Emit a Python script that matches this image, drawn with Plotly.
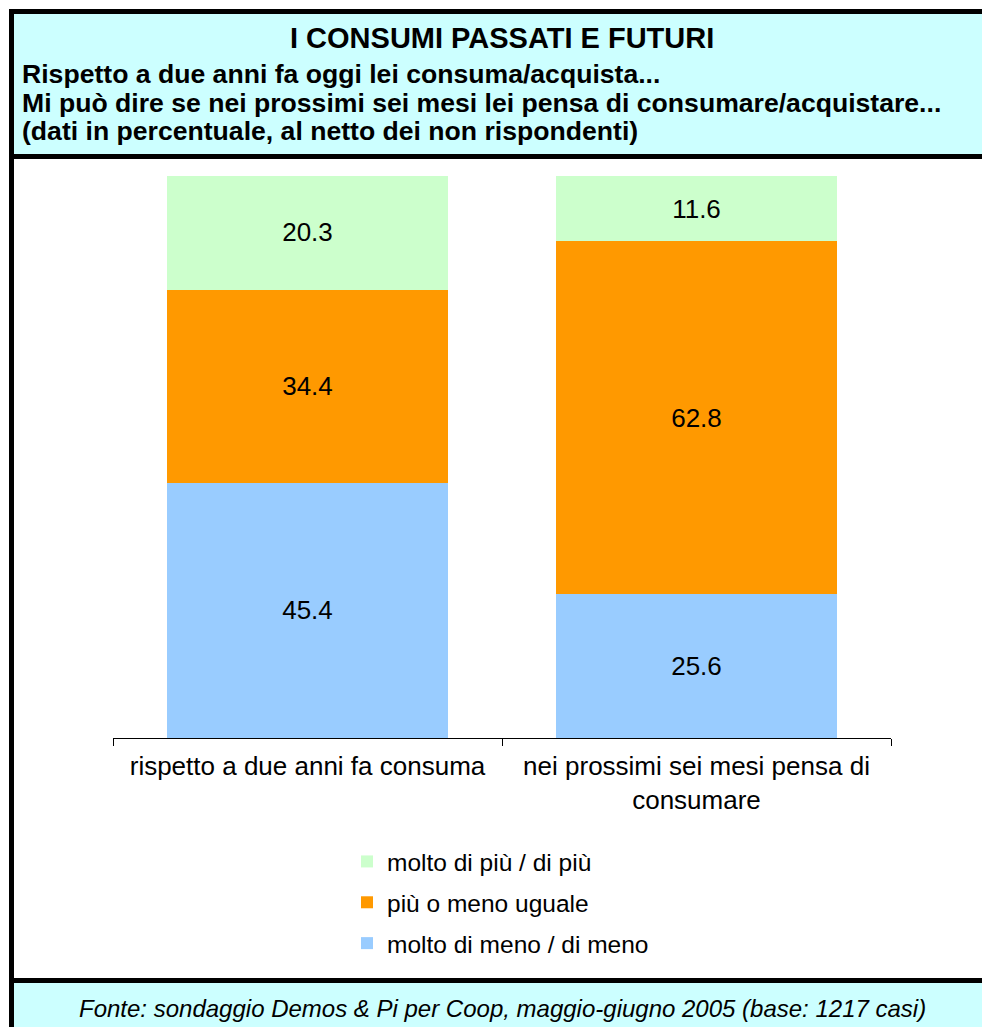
import plotly.graph_objects as go

categories = ["rispetto a due anni fa consuma", "nei prossimi sei mesi pensa di<br>consumare"]
series_names = ["molto di meno / di meno", "più o meno uguale", "molto di più / di più"]
meno = [45.4, 25.6]
uguale = [34.4, 62.8]
piu = [20.3, 11.6]
colors = ["#99CCFF", "#FF9900", "#CCFFCC"]
legend_ranks = [3, 2, 1]

title_text = "I CONSUMI PASSATI E FUTURI"
subtitle_lines = [
    "Rispetto a due anni fa oggi lei consuma/acquista...",
    "Mi può dire se nei prossimi sei mesi lei pensa di consumare/acquistare...",
    "(dati in percentuale, al netto dei non rispondenti)",
]
footer_text = "Fonte: sondaggio Demos & Pi per Coop, maggio-giugno 2005 (base: 1217 casi)"

W, H = 982, 1027
L, R, T, B = 113, 891, 176, 738
PW, PH = R - L, B - T


def px(x):
    return (x - L) / PW


def py(y):
    return (B - y) / PH


FONT = "Liberation Sans, Arial, sans-serif"

fig = go.Figure()
for name, vals, col, rk in zip(series_names, [meno, uguale, piu], colors, legend_ranks):
    fig.add_trace(go.Bar(
        x=categories, y=vals, name=name, legendrank=rk, legendgroup=name,
        marker=dict(color=col, line=dict(width=0)),
        width=0.72,
        text=[f"{v:.1f}" for v in vals],
        textposition="inside", insidetextanchor="middle",
        textangle=0, constraintext="none",
        textfont=dict(family=FONT, size=26, color="black"),
        hoverinfo="skip",
    ))

shapes = [
    # footer box
    dict(type="rect", xref="paper", yref="paper", x0=px(11.5), x1=px(1000), y0=py(1045), y1=py(980.5),
         fillcolor="#CCFFFF", line=dict(color="black", width=5), layer="below"),
    # main box
    dict(type="rect", xref="paper", yref="paper", x0=px(11.5), x1=px(1000), y0=py(980.5), y1=py(156.5),
         fillcolor="white", line=dict(color="black", width=5), layer="below"),
    # title box
    dict(type="rect", xref="paper", yref="paper", x0=px(11.5), x1=px(1000), y0=py(156.5), y1=py(11.5),
         fillcolor="#CCFFFF", line=dict(color="black", width=5), layer="below"),
]

annotations = [
    dict(text=f"<b>{title_text}</b>", xref="paper", yref="paper", x=px(502), y=py(38),
         xanchor="center", yanchor="middle", showarrow=False,
         font=dict(family=FONT, size=29, color="black")),
]
for i, line in enumerate(subtitle_lines):
    annotations.append(dict(text=f"<b>{line}</b>", xref="paper", yref="paper", x=px(20), y=py(74 + 28.7 * i),
                            xanchor="left", yanchor="middle", showarrow=False,
                            font=dict(family=FONT, size=26.6, color="black")))
annotations.append(dict(text=f"<i>{footer_text}</i>", xref="paper", yref="paper", x=px(503), y=py(1008),
                        xanchor="center", yanchor="middle", showarrow=False,
                        font=dict(family=FONT, size=24, color="black")))

fig.update_layout(
    width=W, height=H,
    margin=dict(l=L, r=W - R, t=T, b=H - B, pad=0),
    paper_bgcolor="white", plot_bgcolor="rgba(0,0,0,0)",
    barmode="stack", bargap=0.28,
    showlegend=True,
    legend=dict(x=px(347), y=py(839), xanchor="left", yanchor="top",
                traceorder="grouped", tracegroupgap=6,
                font=dict(family=FONT, size=24.5, color="black"),
                bgcolor="rgba(0,0,0,0)"),
    shapes=shapes, annotations=annotations,
    xaxis=dict(showline=True, linecolor="black", linewidth=1, ticks="outside", tickson="boundaries",
               ticklen=7, tickcolor="black", tickwidth=1, ticklabelstandoff=5,
               tickfont=dict(family=FONT, size=26, color="black"), showgrid=False, fixedrange=True),
    yaxis=dict(range=[0, 100], visible=False, showgrid=False, fixedrange=True),
    font=dict(family=FONT),
)

fig.write_html("out.html", config={"displayModeBar": False, "staticPlot": True},
               post_script="document.body.style.margin='0';document.body.style.overflow='hidden';")
